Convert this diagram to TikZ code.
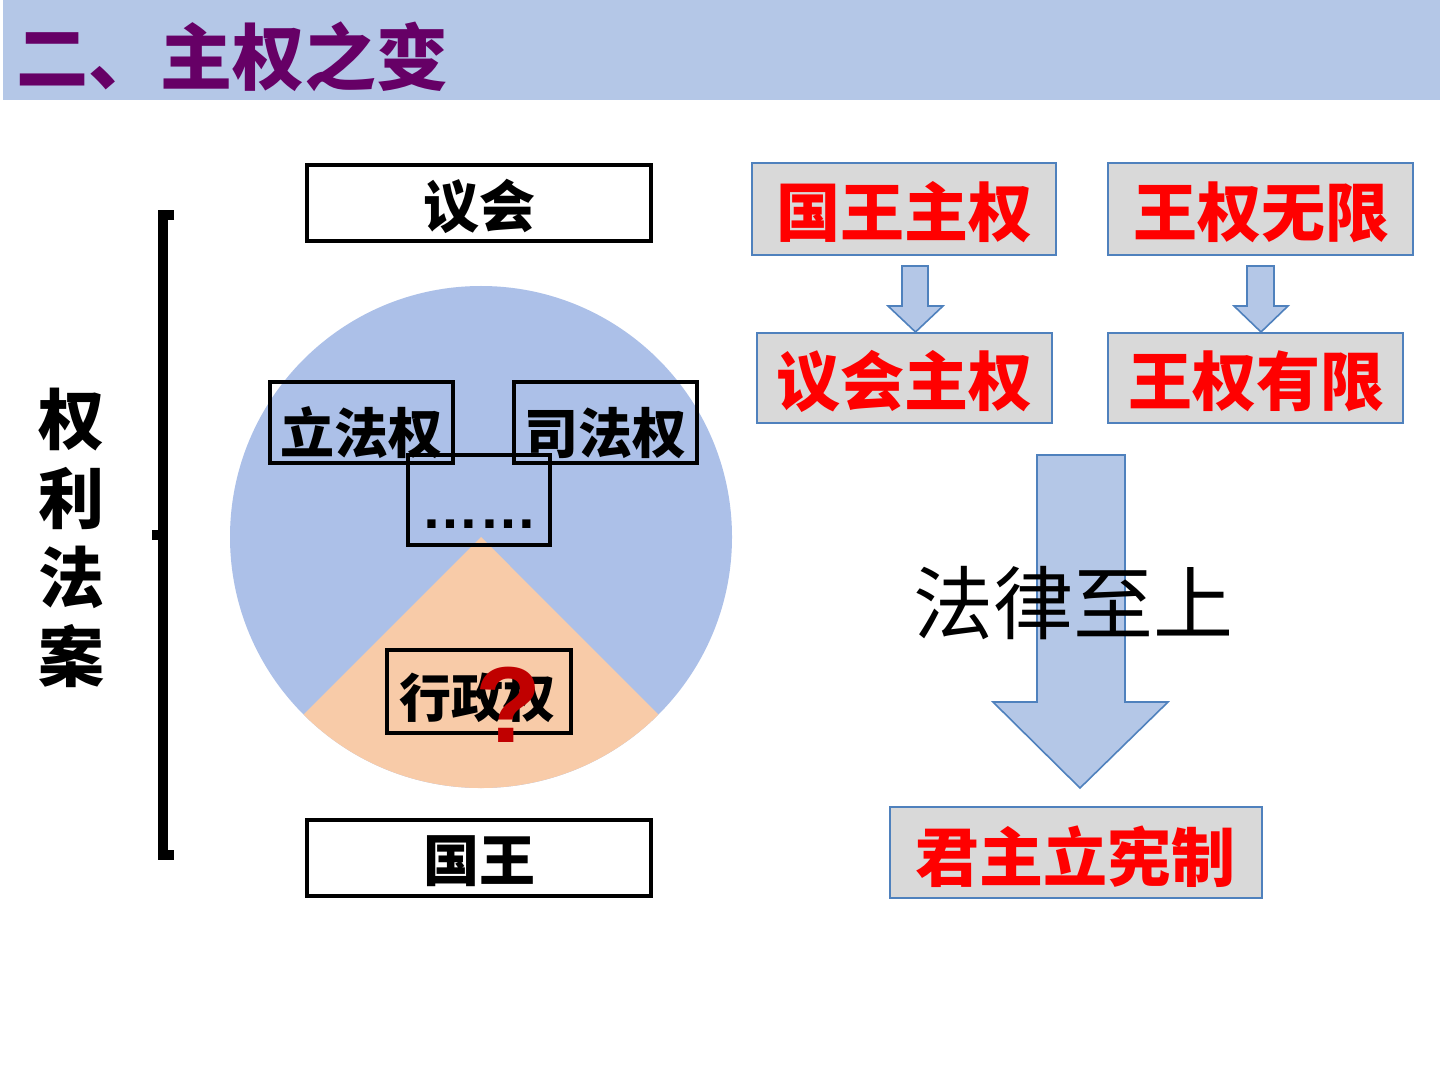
\documentclass[tikz,border=0pt]{standalone}
\usepackage{fontspec}
\newfontfamily\cjk{Noto Sans CJK SC}
\newfontfamily\lat{Liberation Sans}
\definecolor{headerblue}{RGB}{180,199,231}
\definecolor{titlepurple}{RGB}{102,0,102}
\definecolor{pieblue}{RGB}{172,192,232}
\definecolor{pieorange}{RGB}{248,203,168}
\definecolor{boxgray}{RGB}{217,217,217}
\definecolor{boxblue}{RGB}{79,129,189}
\definecolor{arrowblue}{RGB}{180,199,231}
\definecolor{qred}{RGB}{192,0,0}
\definecolor{txtred}{RGB}{255,0,0}
\tikzset{
  blackbox/.style={draw=black, line width=2pt, inner sep=0pt},
  graybox/.style={draw=boxblue, fill=boxgray, line width=1pt, inner sep=0pt},
  blocktxt/.style={font=\cjk\bfseries\fontsize{27pt}{30pt}\selectfont, inner sep=0pt},
  redtxt/.style={text=txtred, font=\cjk\bfseries\fontsize{32pt}{34pt}\selectfont, inner sep=0pt},
  titletxt/.style={text=titlepurple, font=\cjk\bfseries\fontsize{36pt}{40pt}\selectfont, inner sep=0pt},
  billtxt/.style={font=\cjk\bfseries\fontsize{33pt}{39.5pt}\selectfont, align=center, inner sep=0pt},
  blockarrow/.style={draw=boxblue, fill=arrowblue, line width=0.8pt, line join=miter},
}
\begin{document}
\begin{tikzpicture}[x=0.5pt,y=-0.5pt]
\useasboundingbox (0,0) rectangle (1440,1080);
\fill[white] (0,0) rectangle (1440,1080);
% header
\fill[headerblue] (3,0) rectangle (1440,100);
\node[titletxt, anchor=west] (title) at (16,57) {二、主权之变};

% bracket and vertical title
\draw[line width=5pt, line cap=butt, line join=miter] (174,215) -- (163,215) -- (163,855) -- (174,855);
\draw[line width=5pt, line cap=butt] (152,535) -- (163,535);
\node[billtxt] (bill) at (72,538) {权\\利\\法\\案};

% top and bottom boxes
\node[blackbox, minimum width=172pt, minimum height=38pt] (parlbox) at (479,203) {};
\node[blocktxt, font=\cjk\bfseries\fontsize{28pt}{30pt}\selectfont] (parl) at (479,206) {议会};
\node[blackbox, minimum width=172pt, minimum height=38pt] (kingbox) at (479,858) {};
\node[blocktxt, font=\cjk\bfseries\fontsize{28pt}{30pt}\selectfont] (king) at (479,861) {国王};

% pie
\coordinate (pc) at (481,537);
\fill[pieblue] (pc) circle[radius=125.5pt];
\fill[pieorange] (pc) -- (303.5,714.5) arc[start angle=225,end angle=315,radius=125.5pt] -- cycle;

% boxes in the pie
\node[blackbox, minimum width=91.5pt, minimum height=40.5pt] (legbox) at (361.5,422.5) {};
\node[blocktxt] (leg) at (361.5,433) {立法权};
\node[blackbox, minimum width=91.5pt, minimum height=40.5pt] (judbox) at (605,422.5) {};
\node[blocktxt] (jud) at (605,433) {司法权};
\node[blackbox, minimum width=71pt, minimum height=45pt] (etcbox) at (479,500) {};
\node[inner sep=0pt, anchor=base, font=\lat\bfseries\fontsize{29pt}{30pt}\selectfont] (etc) at (479.5,528) {……};
\node[blackbox, minimum width=92pt, minimum height=41.5pt] (exebox) at (479,691.5) {};
\node[blocktxt, font=\cjk\bfseries\fontsize{26pt}{30pt}\selectfont] (exe) at (477.5,698) {行政权};
\node[inner sep=0pt, text=qred, font=\lat\bfseries\fontsize{54pt}{56pt}\selectfont] (q) at (508,705) {?};

% right side: small arrows
\draw[blockarrow] (902,266) -- (928,266) -- (928,306) -- (943,306) -- (915.5,332) -- (888,306) -- (902,306) -- cycle;
\draw[blockarrow] (1247,266) -- (1274,266) -- (1274,306) -- (1288,306) -- (1261,332) -- (1234,306) -- (1247,306) -- cycle;

% right side boxes
\node[graybox, minimum width=152pt, minimum height=46pt] (ksbox) at (904,209) {};
\node[redtxt] (ks) at (904,212.5) {国王主权};
\node[graybox, minimum width=152.5pt, minimum height=46pt] (kubox) at (1260.5,209) {};
\node[redtxt] (ku) at (1261.5,212.5) {王权无限};
\node[graybox, minimum width=147.5pt, minimum height=45pt] (psbox) at (904.5,378) {};
\node[redtxt] (ps) at (904,381) {议会主权};
\node[graybox, minimum width=147.5pt, minimum height=45pt] (klbox) at (1255.5,378) {};
\node[redtxt] (kl) at (1256,381) {王权有限};

% big arrow
\draw[blockarrow] (1037,455) -- (1125,455) -- (1125,702) -- (1168,702) -- (1080,788) -- (993,702) -- (1037,702) -- cycle;
\node[inner sep=0pt, font=\cjk\fontsize{40pt}{42pt}\selectfont] (law) at (1073,603) {法律至上};

\node[graybox, minimum width=186pt, minimum height=45.5pt] (cmbox) at (1076,852.5) {};
\node[redtxt] (cm) at (1075,857) {君主立宪制};
\end{tikzpicture}
\end{document}
